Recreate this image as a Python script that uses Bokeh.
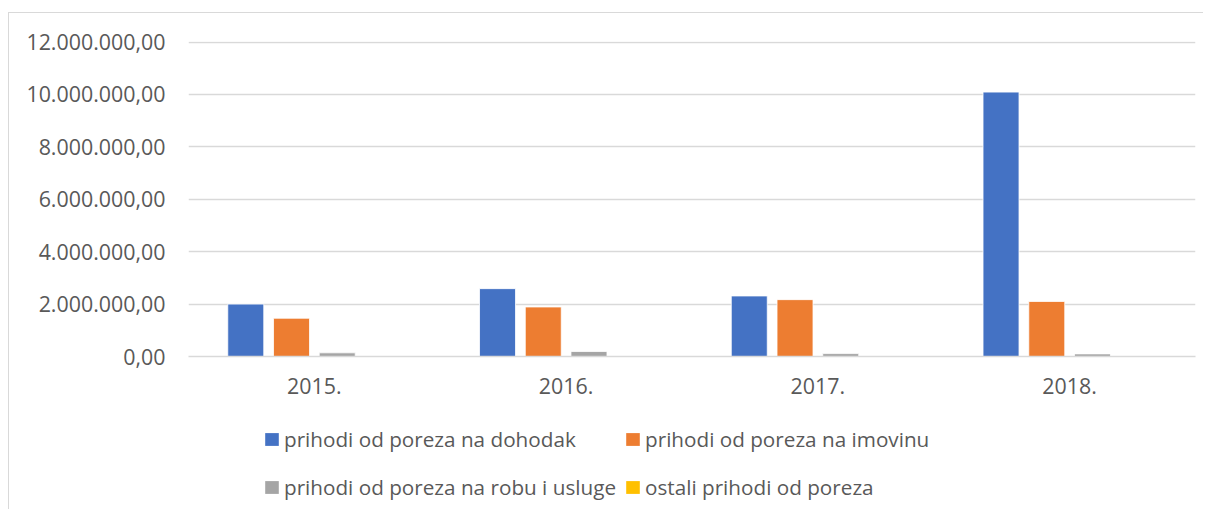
from bokeh.plotting import figure
from bokeh.layouts import column
from bokeh.models import ColumnDataSource, FactorRange, Range1d, Legend, LegendItem, FixedTicker
from bokeh.transform import dodge
from bokeh.embed import file_html
from bokeh.resources import INLINE

years = ["2015.", "2016.", "2017.", "2018."]
dohodak = [2000000, 2590000, 2310000, 10090000]
imovina = [1460000, 1890000, 2170000, 2100000]
robu_usluge = [140000, 190000, 110000, 100000]
ostali = [0, 0, 0, 0]

series_names = [
    "prihodi od poreza na dohodak",
    "prihodi od poreza na imovinu",
    "prihodi od poreza na robu i usluge",
    "ostali prihodi od poreza",
]
series_keys = ["dohodak", "imovina", "robu_usluge", "ostali"]
colors = ["#4472C4", "#ED7D31", "#A5A5A5", "#FFC000"]
offsets = [-0.2725, -0.0908, 0.0908, 0.2725]

y_ticks = [0, 2000000, 4000000, 6000000, 8000000, 10000000, 12000000]
y_tick_labels = ["0,00", "2.000.000,00", "4.000.000,00", "6.000.000,00",
                 "8.000.000,00", "10.000.000,00", "12.000.000,00"]

source = ColumnDataSource(dict(years=years, dohodak=dohodak, imovina=imovina,
                               robu_usluge=robu_usluge, ostali=ostali))

FONT = "Open Sans"
TXT = "#595959"
GRID = "#D9D9D9"

p = figure(x_range=FactorRange(*years, range_padding=0), y_range=Range1d(0, 12020000),
           width=1194, height=395, output_backend="svg", toolbar_location=None,
           min_border_left=179, min_border_right=8, min_border_top=28, min_border_bottom=52)
p.outline_line_color = None
p.background_fill_color = "white"

renderers = []
for key, col, off in zip(series_keys, colors, offsets):
    r = p.vbar(x=dodge("years", off, range=p.x_range), top=key, width=0.143,
               source=source, fill_color=col, line_color="white", line_width=0.8)
    renderers.append(r)

p.yaxis.ticker = FixedTicker(ticks=y_ticks)
p.yaxis.major_label_overrides = {t: l for t, l in zip(y_ticks, y_tick_labels)}
p.yaxis.axis_line_color = None
p.yaxis.major_tick_line_color = None
p.yaxis.minor_tick_line_color = None
p.yaxis.major_tick_out = 0
p.yaxis.major_tick_in = 0
p.yaxis.major_label_standoff = 23
p.yaxis.major_label_text_font = FONT
p.yaxis.major_label_text_font_size = "21.4px"
p.yaxis.major_label_text_color = TXT

p.xaxis.axis_line_color = GRID
p.xaxis.axis_line_width = 1.3
p.xaxis.major_tick_line_color = None
p.xaxis.minor_tick_line_color = None
p.xaxis.major_tick_out = 0
p.xaxis.major_tick_in = 0
p.xaxis.major_label_standoff = 21
p.xaxis.major_label_text_font = FONT
p.xaxis.major_label_text_font_size = "21.4px"
p.xaxis.major_label_text_color = TXT

p.xgrid.grid_line_color = None
p.ygrid.grid_line_color = GRID
p.ygrid.grid_line_width = 1.3

# legend panel: a frame-only figure right under the chart (its frame is aligned with the chart's)
lg = figure(width=1194, height=101, output_backend="svg", toolbar_location=None,
            x_axis_type=None, y_axis_type=None,
            x_range=Range1d(0, 11000000), y_range=Range1d(0, 11000000),
            min_border=0)
lg.outline_line_color = None
lg.xgrid.grid_line_color = None
lg.ygrid.grid_line_color = None
# legend swatch renderers: zero-height, zero-width bars from the same data (nothing visible)
swatches = [lg.vbar(x=key, top=key, bottom=key, width=0.0, source=source,
                    fill_color=c, line_color=None)
            for key, c in zip(series_keys, colors)]

order = [0, 2, 1, 3]  # column-major fill -> row 1: items 1, 2; row 2: items 3, 4
items = [LegendItem(label=series_names[i], renderers=[swatches[i]]) for i in order]
legend = Legend(items=items, ncols=2, location=(75, 2),
                glyph_width=17, glyph_height=16, label_standoff=4, spacing=8,
                label_text_font=FONT, label_text_font_size="20.7px", label_text_color=TXT,
                label_height=40, padding=0, margin=0, border_line_color=None,
                background_fill_alpha=0)
lg.add_layout(legend, "center")

layout = column(p, lg, spacing=0)
layout.styles = {"border-left": "1px solid #D9D9D9", "border-top": "1px solid #D9D9D9",
                 "margin": "12px 0px 0px 8px"}

open("out.html", "w").write(file_html(layout, INLINE))
